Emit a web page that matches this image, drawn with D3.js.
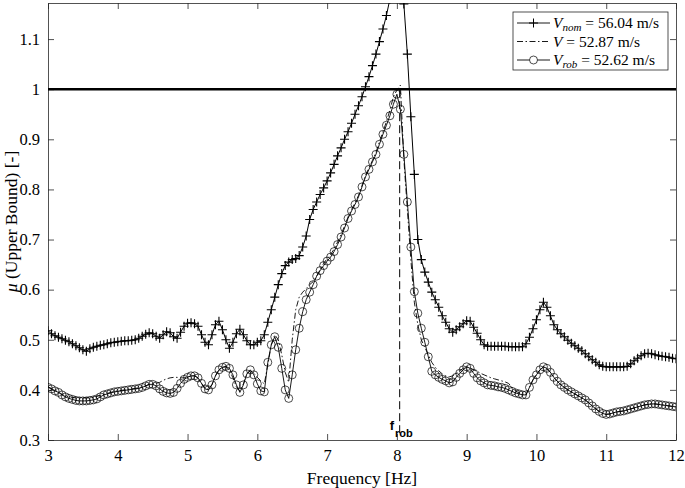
<!DOCTYPE html>
<html>
<head>
<meta charset="utf-8">
<script src="https://cdn.jsdelivr.net/npm/d3@7"></script>
<style>
  html, body { margin: 0; padding: 0; background: #fff; overflow: hidden; }
  #chart { display: block; }
  text { font-family: "Liberation Serif", "Times New Roman", serif; fill: #000; }
</style>
</head>
<body>
<svg id="chart" width="685" height="488"></svg>
<script>
// frequency grid [Hz]
const freq = [
  3.00,3.05,3.10,3.15,3.20,3.25,3.30,3.35,3.40,3.45,
  3.50,3.55,3.60,3.65,3.70,3.75,3.80,3.85,3.90,3.95,
  4.00,4.05,4.10,4.15,4.20,4.25,4.30,4.35,4.40,4.45,
  4.50,4.55,4.60,4.65,4.70,4.75,4.80,4.85,4.90,4.95,
  5.00,5.05,5.10,5.15,5.20,5.25,5.30,5.35,5.40,5.45,
  5.50,5.55,5.60,5.65,5.70,5.75,5.80,5.85,5.90,5.95,
  6.00,6.05,6.10,6.15,6.20,6.25,6.30,6.35,6.40,6.45,
  6.50,6.55,6.60,6.65,6.70,6.75,6.80,6.85,6.90,6.95,
  7.00,7.05,7.10,7.15,7.20,7.25,7.30,7.35,7.40,7.45,
  7.50,7.55,7.60,7.65,7.70,7.75,7.80,7.85,7.90,7.95,
  8.00,8.05,8.10,8.15,8.20,8.25,8.30,8.35,8.40,8.45,
  8.50,8.55,8.60,8.65,8.70,8.75,8.80,8.85,8.90,8.95,
  9.00,9.05,9.10,9.15,9.20,9.25,9.30,9.35,9.40,9.45,
  9.50,9.55,9.60,9.65,9.70,9.75,9.80,9.85,9.90,9.95,
  10.00,10.05,10.10,10.15,10.20,10.25,10.30,10.35,10.40,10.45,
  10.50,10.55,10.60,10.65,10.70,10.75,10.80,10.85,10.90,10.95,
  11.00,11.05,11.10,11.15,11.20,11.25,11.30,11.35,11.40,11.45,
  11.50,11.55,11.60,11.65,11.70,11.75,11.80,11.85,11.90,11.95,
  12.00
];

// mu upper bound, V_nom = 56.04 m/s
const muNom = [
  .518,.512,.508,.505,.502,.499,.496,.492,.488,.484,
  .480,.477,.482,.485,.487,.489,.490,.492,.494,.495,
  .496,.497,.498,.498,.499,.500,.503,.507,.511,.514,
  .512,.507,.503,.510,.516,.514,.506,.503,.515,.527,
  .533,.534,.532,.527,.510,.495,.490,.510,.530,.537,
  .520,.500,.483,.495,.512,.521,.510,.498,.490,.490,
  .495,.498,.510,.535,.560,.585,.610,.632,.648,.655,
  .660,.662,.668,.685,.707,.740,.760,.775,.790,.803,
  .817,.833,.850,.867,.883,.900,.915,.932,.950,.967,
  .985,1.005,1.025,1.047,1.070,1.095,1.120,1.147,1.180,1.300,
  1.450,1.350,1.170,1.070,.945,.830,.700,.660,.635,.615,
  .595,.580,.565,.548,.535,.522,.515,.520,.526,.532,
  .538,.537,.525,.513,.500,.490,.487,.487,.487,.487,
  .487,.487,.486,.486,.486,.486,.486,.492,.505,.522,
  .540,.560,.575,.565,.548,.530,.520,.512,.506,.499,
  .493,.488,.483,.478,.472,.466,.460,.455,.450,.447,
  .446,.446,.446,.446,.446,.446,.447,.452,.458,.463,
  .468,.472,.473,.472,.470,.468,.467,.466,.465,.463,
  .462
];

// mu upper bound, V = 52.87 m/s
const muV = [
  .406,.403,.399,.396,.391,.388,.386,.385,.384,.384,
  .384,.384,.384,.385,.387,.389,.391,.393,.395,.397,
  .398,.399,.400,.401,.402,.403,.404,.406,.408,.411,
  .412,.413,.415,.419,.422,.424,.425,.425,.424,.424,
  .426,.428,.428,.424,.413,.403,.401,.411,.428,.440,
  .445,.446,.440,.424,.406,.398,.412,.432,.438,.433,
  .425,.418,.412,.450,.490,.510,.500,.470,.435,.415,
  .500,.560,.585,.595,.602,.610,.616,.627,.640,.652,
  .662,.670,.681,.695,.710,.727,.745,.760,.773,.788,
  .808,.828,.843,.858,.874,.895,.915,.935,.958,.985,
  .998,1.008,.860,.760,.660,.575,.530,.500,.485,.470,
  .455,.445,.438,.432,.428,.426,.428,.433,.438,.443,
  .446,.444,.440,.437,.433,.430,.427,.424,.422,.420,
  .418,.416,.413,.405,.398,.394,.391,.390,.405,.420,
  .430,.440,.446,.443,.435,.425,.417,.410,.405,.400,
  .396,.392,.388,.384,.380,.374,.368,.362,.357,.353,
  .351,.352,.354,.356,.357,.358,.360,.362,.364,.366,
  .368,.370,.371,.372,.372,.371,.370,.369,.368,.367,
  .366
];

// mu upper bound, V_rob = 52.62 m/s
const muRob = [
  .405,.402,.398,.395,.390,.386,.383,.381,.379,.378,
  .378,.378,.379,.380,.382,.386,.390,.392,.394,.396,
  .397,.398,.399,.400,.401,.402,.403,.405,.408,.411,
  .411,.408,.402,.397,.394,.393,.395,.403,.413,.421,
  .425,.428,.428,.424,.413,.402,.400,.410,.428,.440,
  .445,.447,.443,.430,.410,.395,.410,.432,.440,.430,
  .412,.398,.396,.455,.490,.506,.485,.443,.400,.383,
  .430,.480,.523,.556,.580,.595,.610,.627,.638,.648,
  .657,.665,.676,.690,.705,.723,.742,.757,.770,.785,
  .805,.825,.840,.855,.870,.890,.910,.928,.947,.970,
  .990,.960,.870,.775,.685,.596,.553,.523,.495,.466,
  .437,.430,.425,.421,.418,.414,.416,.425,.433,.440,
  .446,.443,.433,.424,.418,.414,.410,.409,.408,.406,
  .405,.403,.400,.397,.394,.392,.390,.390,.405,.420,
  .430,.440,.446,.443,.435,.425,.417,.410,.405,.400,
  .396,.392,.388,.384,.380,.374,.368,.362,.357,.353,
  .351,.352,.354,.356,.357,.358,.360,.362,.364,.366,
  .368,.370,.371,.372,.372,.371,.370,.369,.368,.367,
  .366
];

const xTicks = [3, 4, 5, 6, 7, 8, 9, 10, 11, 12];
const yTicks = [0.3, 0.4, 0.5, 0.6, 0.7, 0.8, 0.9, 1, 1.1];
const legendNames = [
  { v: "V", sub: "nom", rest: " = 56.04 m/s" },
  { v: "V", sub: "", rest: " = 52.87 m/s" },
  { v: "V", sub: "rob", rest: " = 52.62 m/s" }
];
const fRob = 8.04;
const muLimit = 1;

const margin = { top: 3, right: 9, bottom: 48, left: 48 },
  width = 685,
  height = 488,
  innerWidth = width - margin.left - margin.right,
  innerHeight = height - margin.top - margin.bottom;

const svg = d3
  .select("#chart")
  .append("g")
  .attr("transform", `translate(${margin.left},${margin.top})`);

const xScale = d3.scaleLinear().domain([3, 12]).range([0, innerWidth]);
const yScale = d3.scaleLinear().domain([0.3, 1.172]).range([innerHeight, 0]);

svg
  .append("clipPath")
  .attr("id", "plot-clip")
  .append("rect")
  .attr("width", innerWidth)
  .attr("height", innerHeight);

const axisColor = "#262626";
const tickFmt = (d) => (d === 1 ? "1" : d3.format(".1f")(d));

const styleAxis = (g) => {
  g.selectAll("path.domain").attr("stroke", axisColor).attr("stroke-width", 0.8);
  g.selectAll(".tick line").attr("stroke", axisColor).attr("stroke-width", 0.8);
  g.selectAll("text").style("font-size", "16.5px").attr("fill", "#000");
};

svg
  .append("g")
  .attr("transform", `translate(0,${innerHeight})`)
  .call(d3.axisBottom(xScale).tickValues(xTicks).tickSize(-6).tickSizeOuter(0).tickPadding(9).tickFormat(d3.format("d")))
  .call(styleAxis);

svg
  .append("g")
  .call(d3.axisLeft(yScale).tickValues(yTicks).tickSize(-6).tickSizeOuter(0).tickPadding(8).tickFormat(tickFmt))
  .call(styleAxis);

// box: top and right edges with inward ticks, no labels
svg
  .append("g")
  .call(d3.axisTop(xScale).tickValues(xTicks).tickSize(-6).tickSizeOuter(0))
  .call(styleAxis)
  .call((g) => g.selectAll("text").remove());

svg
  .append("g")
  .attr("transform", `translate(${innerWidth},0)`)
  .call(d3.axisRight(yScale).tickValues(yTicks).tickSize(-6).tickSizeOuter(0))
  .call(styleAxis)
  .call((g) => g.selectAll("text").remove());

// axis labels
svg
  .append("text")
  .attr("x", innerWidth / 2)
  .attr("y", innerHeight + 44)
  .attr("text-anchor", "middle")
  .style("font-size", "17.5px")
  .text("Frequency [Hz]");

const yLab = svg
  .append("text")
  .attr("transform", `translate(${-31},${innerHeight / 2}) rotate(-90)`)
  .attr("text-anchor", "middle")
  .style("font-size", "17.5px");
yLab.append("tspan").style("font-style", "italic").text("μ");
yLab.append("tspan").text(" (Upper Bound) [-]");

const plot = svg.append("g").attr("clip-path", "url(#plot-clip)");

const rows = (vals) => freq.map((f, i) => ({ f: f, mu: vals[i] }));
const lineGen = d3
  .line()
  .x((d) => xScale(d.f))
  .y((d) => yScale(d.mu));

// V_rob: solid with circles
plot
  .append("path")
  .datum(rows(muRob))
  .attr("fill", "none")
  .attr("stroke", "#000")
  .attr("stroke-width", 0.9)
  .attr("d", lineGen);

plot
  .selectAll(".dot-rob")
  .data(rows(muRob))
  .join("circle")
  .attr("class", "dot-rob")
  .attr("cx", (d) => xScale(d.f))
  .attr("cy", (d) => yScale(d.mu))
  .attr("r", 4)
  .attr("fill", "none")
  .attr("stroke", "#000")
  .attr("stroke-width", 0.7);

// V: dash-dot
plot
  .append("path")
  .datum(rows(muV))
  .attr("fill", "none")
  .attr("stroke", "#000")
  .attr("stroke-width", 0.9)
  .attr("stroke-dasharray", "6,2.5,1.5,2.5")
  .attr("d", lineGen);

// V_nom: solid with plus markers
plot
  .append("path")
  .datum(rows(muNom))
  .attr("fill", "none")
  .attr("stroke", "#000")
  .attr("stroke-width", 1)
  .attr("d", lineGen);

plot
  .selectAll(".dot-nom")
  .data(rows(muNom))
  .join("path")
  .attr("class", "dot-nom")
  .attr("transform", (d) => `translate(${xScale(d.f)},${yScale(d.mu)})`)
  .attr("d", "M-4.5,0H4.5M0,-4.5V4.5")
  .attr("stroke", "#000")
  .attr("stroke-width", 1.1);

// stability limit
plot
  .append("line")
  .attr("x1", 0)
  .attr("x2", innerWidth)
  .attr("y1", yScale(muLimit))
  .attr("y2", yScale(muLimit))
  .attr("stroke", "#000")
  .attr("stroke-width", 2.4);

// f_rob marker
plot
  .append("line")
  .attr("x1", xScale(fRob))
  .attr("x2", xScale(fRob))
  .attr("y1", yScale(muLimit))
  .attr("y2", innerHeight - 4)
  .attr("stroke", "#000")
  .attr("stroke-width", 1)
  .attr("stroke-dasharray", "8,4");

const fLab = svg
  .append("text")
  .attr("x", xScale(fRob) - 10)
  .attr("y", innerHeight - 10)
  .style("font-family", "'Liberation Sans', Arial, sans-serif")
  .style("font-weight", "bold")
  .style("font-size", "13px");
fLab.append("tspan").text("f");
fLab
  .append("tspan")
  .attr("dx", 1)
  .attr("dy", 7)
  .style("font-size", "11px")
  .text("rob");

// legend
const legend = svg.append("g").attr("transform", `translate(${innerWidth - 163},9)`);

legend
  .append("rect")
  .attr("width", 155)
  .attr("height", 58)
  .attr("fill", "#fff")
  .attr("stroke", axisColor)
  .attr("stroke-width", 0.8);

const legendItem = legend
  .selectAll(".legend-item")
  .data(legendNames)
  .join("g")
  .attr("class", "legend-item")
  .attr("transform", (_, i) => `translate(0,${11 + i * 18.5})`);

legendItem
  .append("line")
  .attr("x1", 4)
  .attr("x2", 37)
  .attr("stroke", "#000")
  .attr("stroke-width", 0.9)
  .attr("stroke-dasharray", (_, i) => (i === 1 ? "6,2.5,1.5,2.5" : null));

legendItem
  .filter((_, i) => i === 0)
  .append("path")
  .attr("transform", "translate(20.5,0)")
  .attr("d", "M-4.5,0H4.5M0,-4.5V4.5")
  .attr("stroke", "#000");

legendItem
  .filter((_, i) => i === 2)
  .append("circle")
  .attr("cx", 20.5)
  .attr("r", 4)
  .attr("fill", "#fff")
  .attr("stroke", "#000")
  .attr("stroke-width", 0.7);

const legendText = legendItem
  .append("text")
  .attr("x", 40)
  .attr("y", 5)
  .style("font-size", "15.5px");

legendText.append("tspan").style("font-style", "italic").text((d) => d.v);
legendText
  .filter((d) => d.sub)
  .append("tspan")
  .attr("dy", 3)
  .style("font-style", "italic")
  .style("font-size", "11px")
  .text((d) => d.sub);
legendText
  .append("tspan")
  .attr("dy", (d) => (d.sub ? -3 : 0))
  .text((d) => d.rest);
</script>
</body>
</html>
